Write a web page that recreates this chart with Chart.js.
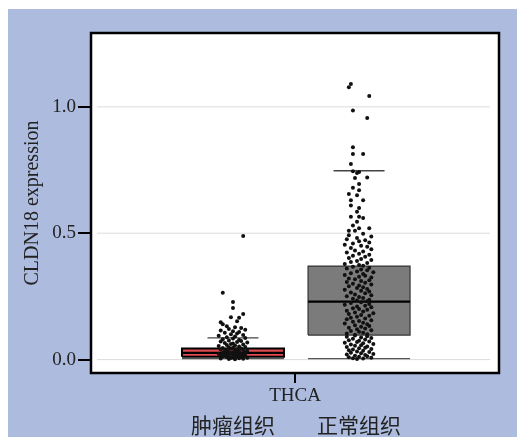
<!DOCTYPE html>
<html>
<head>
<meta charset="utf-8">
<script src="https://cdn.jsdelivr.net/npm/chart.js@4.4.1/dist/chart.umd.min.js"></script>
<style>
  html, body { margin: 0; background: #fff; }
  #wrap { position: absolute; left: 8px; top: 9px; width: 509px; height: 428px; background: #adbcde; }
</style>
</head>
<body>
<div id="wrap"><canvas id="c" width="509" height="428"></canvas></div>
<script>
// categories and axis ticks
const cancerType = 'THCA'
const groupLabels = ['肿瘤组织', '正常组织']
const groupX = [0.696, 1.314]
const yTicks = [0, 0.5, 1.0]

// box stats: [lower cap, q1, median, q3, upper cap]
const tumorBox = [0.004, 0.011, 0.027, 0.044, 0.086]
const normalBox = [0.004, 0.097, 0.229, 0.370, 0.747]

// jittered samples (jitter in hundredths of an x unit)
const tumorValues = [
  0.489, 0.264, 0.228, 0.204, 0.18, 0.168, 0.166, 0.152, 0.148, 0.14,
  0.132, 0.128, 0.125, 0.121, 0.118, 0.115, 0.112, 0.109, 0.106, 0.103,
  0.100, 0.097, 0.094, 0.091, 0.088, 0.085, 0.083, 0.081, 0.078, 0.076,
  0.074, 0.072, 0.070, 0.068, 0.066, 0.064, 0.062, 0.060, 0.058, 0.056,
  0.054, 0.052, 0.050, 0.049, 0.047, 0.046, 0.044, 0.043, 0.041, 0.040,
  0.038, 0.037, 0.035, 0.034, 0.033, 0.031, 0.030, 0.029, 0.028, 0.027,
  0.026, 0.025, 0.024, 0.023, 0.022, 0.021, 0.020, 0.019, 0.018, 0.017,
  0.016, 0.015, 0.014, 0.013, 0.012, 0.011, 0.010, 0.009, 0.008, 0.007,
  0.006, 0.005, 0.004, 0.003, 0.002, 0.001,
]
const tumorJitter = [
  5, -5, 0, 0, 5, -1, 3, 2, -6, -5,
  -3, 1, 4, -2, 6, -6, 0, 3, -4, 2,
  -1, 5, -7, 1, -3, 6, 0, -5, 3, -2,
  4, -6, 2, 7, -4, 0, -1, 5, -3, 1,
  -7, 3, 6, -2, 0, -5, 4, -1, 2, -6,
  5, -3, 1, 7, -4, 3, -2, 0, 6, -5,
  2, -1, 4, -7, 1, -3, 5, 0, -4, 3,
  -6, 6, -2, 2, -5, 1, 4, -3, 0, 7,
  -1, 3, -6, 5, -2, 1,
]
const normalValues = [
  1.09, 1.077, 1.043, 0.985, 0.956, 0.84, 0.813, 0.813, 0.774, 0.745,
  0.742, 0.738, 0.72, 0.718, 0.695, 0.68, 0.67, 0.655, 0.65, 0.63,
  0.63, 0.61, 0.60, 0.585, 0.565, 0.565, 0.56, 0.545, 0.53, 0.52,
  0.52, 0.51, 0.51,
  0.498, 0.492, 0.487, 0.481, 0.476, 0.472, 0.468, 0.463, 0.459, 0.454,
  0.450, 0.446, 0.441, 0.437, 0.432, 0.428, 0.424, 0.419, 0.415, 0.411,
  0.407, 0.402, 0.398, 0.394, 0.390, 0.386, 0.382, 0.378, 0.374, 0.371,
  0.367, 0.363, 0.360, 0.356, 0.353, 0.349, 0.346, 0.342, 0.339, 0.335,
  0.332, 0.328, 0.325, 0.321, 0.318, 0.314, 0.311, 0.307, 0.304, 0.300,
  0.297, 0.293, 0.290, 0.286, 0.283, 0.279, 0.276, 0.272, 0.269, 0.265,
  0.262, 0.258, 0.255, 0.251, 0.248, 0.244, 0.241, 0.237, 0.234, 0.231,
  0.227, 0.224, 0.220, 0.217, 0.213, 0.210, 0.207, 0.203, 0.200, 0.197,
  0.193, 0.190, 0.186, 0.183, 0.180, 0.176, 0.173, 0.170, 0.166, 0.163,
  0.160, 0.156, 0.153, 0.150, 0.146, 0.143, 0.140, 0.136, 0.133, 0.130,
  0.126, 0.123, 0.120, 0.116, 0.113, 0.110, 0.106, 0.103, 0.100, 0.098,
  0.095, 0.092, 0.090, 0.087, 0.085, 0.082, 0.080, 0.077, 0.075, 0.072,
  0.070, 0.067, 0.065, 0.062, 0.060, 0.057, 0.055, 0.052, 0.050, 0.047,
  0.045, 0.042, 0.040, 0.037, 0.035, 0.032, 0.030, 0.027, 0.025, 0.022,
  0.020, 0.018, 0.015, 0.013, 0.011, 0.009, 0.007, 0.005, 0.004, 0.002,
]
const normalJitter = [
  -4, -5, 5, -3, 4, -3, -3, 2, -4, -3,
  0, -1, 4, -2, 0, -3, 0, -5, -1, -4,
  2, -4, 0, -1, -4, 0, 2, -1, -3, 0,
  5, -2, -5,
  2, -5, 6, -1, -6, 3, 0, 5, -3, -7,
  1, 4, -4, 6, -2, 2, -6, 0, 5, -3,
  3, -5, 1, 6, -1, -4, 4, -7, 0, 2,
  -3, 5, -6, 1, 4, -1, 7, -4, 2, -7,
  3, 0, 6, -5, -2, 5, 1, -6, 3, -3,
  6, 0, -5, 2, -1, 4, -7, 1, 5, -4,
  3, -2, 6, -6, 0, 2, -3, 5, -1, 4,
  1, -4, 5, -7, 3, -1, 6, -3, 0, 4,
  -6, 2, -2, 7, -5, 1, 5, -1, -4, 3,
  -6, 6, 0, -3, 2, -7, 4, -2, 5, 1,
  -5, 3, -1, 6, -4, 0, 2, -6, 4, -2,
  -2, 4, -6, 1, 6, -3, 3, -5, 0, 5,
  -1, -7, 2, 7, -4, 1, -2, 4, -6, 3,
  0, 6, -3, -5, 2, -1, 5, -4, 1, 7,
  -6, 3, -2, 4, 0, -5, 6, -3, 2, -1,
]

const BOX_HALF = 0.25
const CAP_HALF = 0.125
const GRID_X = [0.029, 1.956]

const seg = (x0, x1, y) => [{ x: x0, y }, { x: x1, y }]

function line(data, color, width, order, extra) {
  return Object.assign({
    type: 'line', data, borderColor: color, borderWidth: width,
    pointRadius: 0, tension: 0, fill: false, order,
  }, extra || {})
}

function boxDatasets(cx, stats, fillColor, edgeColor, edgeWidth) {
  const [lo, q1, med, q3, hi] = stats
  const x0 = cx - BOX_HALF, x1 = cx + BOX_HALF
  return [
    line(seg(x0, x1, q3), fillColor, 0, 4, { fill: { value: q1 }, backgroundColor: fillColor }),
    line([{ x: x0, y: q1 }, { x: x0, y: q3 }, { x: x1, y: q3 }, { x: x1, y: q1 }, { x: x0, y: q1 }], edgeColor, edgeWidth, 2),
    line(seg(x0, x1, med), '#000', 2.2, 1),
    line(seg(cx - CAP_HALF, cx + CAP_HALF, hi), '#444', 1.3, 3),
    line(seg(x0, x1, lo), '#555', 1.2, 3),
  ]
}

function points(cx, values, jitter) {
  return {
    type: 'scatter',
    data: values.map((v, i) => ({ x: cx + jitter[i] / 100, y: v })),
    pointRadius: 2, pointBorderWidth: 0, backgroundColor: '#111', order: 0,
  }
}

const datasets = [
  points(groupX[0], tumorValues, tumorJitter),
  points(groupX[1], normalValues, normalJitter),
  ...boxDatasets(groupX[0], tumorBox, '#e04a4f', '#000', 2),
  ...boxDatasets(groupX[1], normalBox, '#7b7b7b', '#333', 1.2),
  ...yTicks.map(t => line(seg(GRID_X[0], GRID_X[1], t), '#dcdcdc', 1, 5)),
]

const framePlugin = {
  id: 'frame',
  beforeDraw(chart) {
    const { ctx, chartArea: a } = chart
    ctx.save()
    ctx.fillStyle = '#fff'
    ctx.fillRect(a.left, a.top, a.right - a.left, a.bottom - a.top)
    ctx.restore()
  },
  afterDraw(chart) {
    const { ctx, chartArea: a } = chart
    ctx.save()
    ctx.strokeStyle = '#000'
    ctx.lineWidth = 2.5
    ctx.strokeRect(a.left, a.top, a.right - a.left, a.bottom - a.top)
    ctx.restore()
  },
}

const serif = 'Liberation Serif'
const axisGrid = { drawOnChartArea: false, drawTicks: true, color: '#000', lineWidth: 2 }

new Chart(document.getElementById('c'), {
  type: 'scatter',
  data: { datasets },
  plugins: [framePlugin],
  options: {
    responsive: false,
    animation: false,
    devicePixelRatio: 1,
    layout: { padding: { top: 24, right: 18, left: 0, bottom: 0 } },
    plugins: { legend: { display: false }, tooltip: { enabled: false } },
    scales: {
      x: {
        type: 'linear', position: 'bottom', min: 0, max: 2,
        grid: { ...axisGrid, tickLength: 10 },
        border: { display: false },
        afterBuildTicks: s => { s.ticks = [{ value: 1 }] },
        afterFit: s => { s.height = 38 },
        ticks: { callback: () => cancerType, color: '#222', padding: 2, maxRotation: 0, autoSkip: false,
          font: { family: serif, size: 19 } },
      },
      x2: {
        type: 'linear', position: 'bottom', min: 0, max: 2,
        grid: { display: false, drawTicks: false, tickLength: 0 },
        border: { display: false },
        afterBuildTicks: s => { s.ticks = groupX.map(v => ({ value: v })) },
        afterFit: s => { s.height = 26 },
        ticks: { callback: (v, i) => groupLabels[i], color: '#222', padding: 1, maxRotation: 0, autoSkip: false,
          font: { family: 'Noto Sans CJK SC', size: 21 } },
      },
      y: {
        type: 'linear', min: -0.053, max: 1.292,
        grid: { ...axisGrid, tickLength: 13 },
        border: { display: false },
        afterBuildTicks: s => { s.ticks = yTicks.map(v => ({ value: v })) },
        afterFit: s => { s.width = 83 },
        ticks: { callback: v => v.toFixed(1), color: '#222', padding: 2,
          font: { family: serif, size: 19 } },
        title: { display: true, text: 'CLDN18 expression', color: '#222', padding: { top: 13, bottom: 0 },
          font: { family: serif, size: 20 } },
      },
    },
  },
})
</script>
</body>
</html>
